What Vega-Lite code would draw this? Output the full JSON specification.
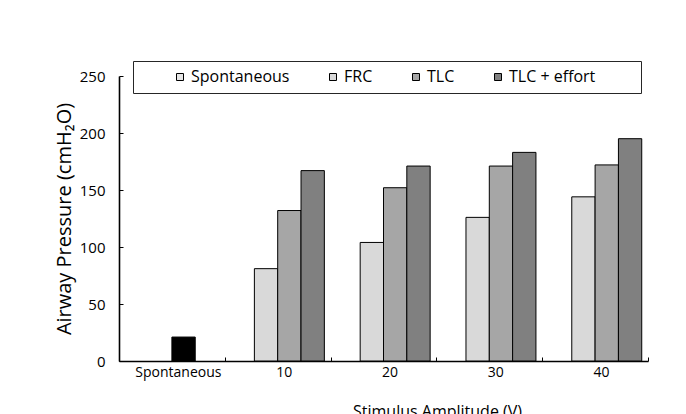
{
  "$schema": "https://vega.github.io/schema/vega-lite/v6.json",
  "autosize": "none",
  "padding": {"left": 119, "top": 76, "right": 38, "bottom": 53},
  "width": 529,
  "height": 285,
  "background": "white",
  "data": {
    "values": [
      {"amplitude": "Spontaneous", "series": "TLC", "pressure": 21},
      {"amplitude": "10", "series": "FRC", "pressure": 81},
      {"amplitude": "10", "series": "TLC", "pressure": 132},
      {"amplitude": "10", "series": "TLC + effort", "pressure": 167},
      {"amplitude": "20", "series": "FRC", "pressure": 104},
      {"amplitude": "20", "series": "TLC", "pressure": 152},
      {"amplitude": "20", "series": "TLC + effort", "pressure": 171},
      {"amplitude": "30", "series": "FRC", "pressure": 126},
      {"amplitude": "30", "series": "TLC", "pressure": 171},
      {"amplitude": "30", "series": "TLC + effort", "pressure": 183},
      {"amplitude": "40", "series": "FRC", "pressure": 144},
      {"amplitude": "40", "series": "TLC", "pressure": 172},
      {"amplitude": "40", "series": "TLC + effort", "pressure": 195}
    ]
  },
  "mark": {"type": "bar", "stroke": "#000000", "strokeWidth": 1},
  "encoding": {
    "x": {
      "field": "amplitude",
      "type": "nominal",
      "sort": ["Spontaneous", "10", "20", "30", "40"],
      "scale": {"domain": ["Spontaneous", "10", "20", "30", "40"], "paddingInner": 0, "paddingOuter": 0},
      "axis": {
        "title": "Stimulus Amplitude (V)",
        "labelAngle": 0,
        "labelFont": "Open Sans",
        "labelFontSize": 14,
        "labelColor": "#000000",
        "labelPadding": 8,
        "labelOffset": 6,
        "tickBand": "extent",
        "tickSize": -4,
        "tickColor": "#000000",
        "tickWidth": 1,
        "domainColor": "#000000",
        "domainWidth": 1.6,
        "titleFont": "Open Sans",
        "titleFontSize": 16,
        "titleFontWeight": "normal",
        "titleColor": "#000000",
        "titlePadding": 24,
        "titleX": 318
      }
    },
    "xOffset": {
      "field": "series",
      "type": "nominal",
      "scale": {"domain": ["Spontaneous", "FRC", "TLC", "TLC + effort"], "paddingInner": 0, "paddingOuter": 0.268}
    },
    "y": {
      "field": "pressure",
      "type": "quantitative",
      "scale": {"domain": [0, 250], "nice": false},
      "axis": {
        "title": "Airway Pressure (cmH₂O)",
        "values": [0, 50, 100, 150, 200, 250],
        "grid": false,
        "labelFont": "Open Sans",
        "labelFontSize": 15,
        "labelColor": "#000000",
        "labelPadding": 18,
        "tickSize": -4,
        "tickColor": "#000000",
        "tickWidth": 1,
        "domainColor": "#000000",
        "domainWidth": 1.6,
        "titleFont": "Open Sans",
        "titleFontSize": 20,
        "titleFontWeight": "normal",
        "titleColor": "#000000",
        "titlePadding": 5
      }
    },
    "color": {
      "condition": {"test": "datum.amplitude === 'Spontaneous'", "value": "#000000"},
      "field": "series",
      "type": "nominal",
      "scale": {
        "domain": ["Spontaneous", "FRC", "TLC", "TLC + effort"],
        "range": ["#e6e6e6", "#d9d9d9", "#a6a6a6", "#808080"]
      },
      "legend": {
        "orient": "none",
        "legendX": 14,
        "legendY": -15,
        "direction": "horizontal",
        "title": "\u00a0",
        "titleOrient": "right",
        "titlePadding": 38,
        "titleFontSize": 16,
        "padding": 8,
        "strokeColor": "#262626",
        "fillColor": "#ffffff",
        "symbolType": "square",
        "symbolSize": 49,
        "symbolOffset": 31,
        "symbolStrokeColor": "#000000",
        "symbolStrokeWidth": 1,
        "labelFont": "Open Sans",
        "labelFontSize": 16,
        "labelColor": "#000000",
        "labelOffset": 3,
        "columnPadding": 4
      }
    }
  },
  "config": {
    "view": {"stroke": null},
    "font": "Open Sans"
  }
}
